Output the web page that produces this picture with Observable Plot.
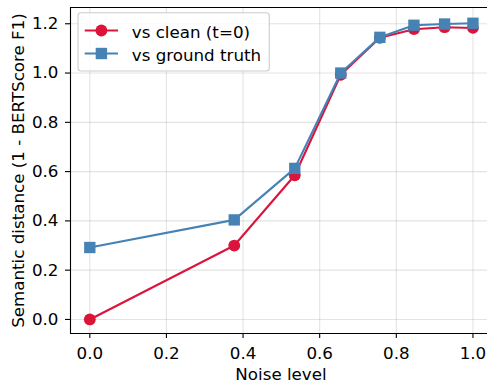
<!DOCTYPE html>
<html>
<head>
<meta charset="utf-8">
<script src="https://cdn.jsdelivr.net/npm/d3@7"></script>
<script src="https://cdn.jsdelivr.net/npm/@observablehq/plot@0.6"></script>
<style>
  html, body { margin: 0; padding: 0; background: #fff; }
  #wrap { position: relative; width: 487px; height: 383px; overflow: hidden; font-family: "DejaVu Sans", sans-serif; }
</style>
</head>
<body>
<div id="wrap"></div>
<script>
// Data
const noiseLevel = [0, 0.377, 0.535, 0.655, 0.757, 0.846, 0.926, 1.0];
const vsClean    = [0, 0.300, 0.585, 0.993, 1.143, 1.178, 1.186, 1.183];
const vsTruth    = [0.292, 0.404, 0.613, 1.000, 1.145, 1.194, 1.199, 1.202];
const seriesNames = ["vs clean (t=0)", "vs ground truth"];
const xTicks = [0, 0.2, 0.4, 0.6, 0.8, 1.0];
const yTicks = [0, 0.2, 0.4, 0.6, 0.8, 1.0, 1.2];
const xLabel = "Noise level";
const yLabel = "Semantic distance (1 - BERTScore F1)";

const red = "#DC143C";
const blue = "#4682B4";
const FS = 16.7;

const cleanRows = noiseLevel.map((x, i) => ({x, y: vsClean[i]}));
const truthRows = noiseLevel.map((x, i) => ({x, y: vsTruth[i]}));

const xDomain = [-0.0504, 1.038];
const yDomain = [-0.057, 1.266];

const chart = Plot.plot({
  width: 487,
  height: 383,
  marginLeft: 70,
  marginRight: 0,
  marginTop: 7,
  marginBottom: 50,
  x: {domain: xDomain},
  y: {domain: yDomain},
  style: {fontFamily: "DejaVu Sans", fontSize: FS + "px", color: "black", background: "white", overflow: "visible"},
  marks: [
    Plot.gridX(xTicks, {stroke: "#b0b0b0", strokeOpacity: 0.35, strokeWidth: 1.1}),
    Plot.gridY(yTicks, {stroke: "#b0b0b0", strokeOpacity: 0.35, strokeWidth: 1.1}),
    Plot.axisX(xTicks, {tickFormat: d => d.toFixed(1), tickSize: 5, tickPadding: 9, label: null, fontSize: FS, stroke: "black", strokeWidth: 1.1}),
    Plot.axisY(yTicks, {tickFormat: d => d.toFixed(1), tickSize: 5, tickPadding: 7, label: null, fontSize: FS, stroke: "black", strokeWidth: 1.1}),
    Plot.ruleX([xDomain[0]], {stroke: "black", strokeWidth: 1.1}),
    Plot.ruleY([yDomain[0]], {stroke: "black", strokeWidth: 1.1}),
    Plot.ruleY([yDomain[1]], {stroke: "black", strokeWidth: 1.1}),
    Plot.line(cleanRows, {x: "x", y: "y", stroke: red, strokeWidth: 2.1}),
    Plot.dot(cleanRows, {x: "x", y: "y", symbol: "circle", r: 5.9, fill: red, stroke: "none"}),
    Plot.line(truthRows, {x: "x", y: "y", stroke: blue, strokeWidth: 2.1}),
    Plot.dot(truthRows, {x: "x", y: "y", symbol: "square", r: 6.4, fill: blue, stroke: "none"}),
    Plot.text([xLabel], {frameAnchor: "bottom", lineAnchor: "bottom", dy: 46, dx: 2, fontSize: FS, fill: "black"}),
    Plot.text([yLabel], {frameAnchor: "left", textAnchor: "middle", rotate: -90, lineAnchor: "middle", dx: -52, fontSize: FS, fill: "black"})
  ]
});
document.getElementById("wrap").appendChild(chart);

// Legend (upper left, inside axes)
const leg = d3.create("svg")
  .attr("width", 487).attr("height", 383)
  .style("position", "absolute").style("left", "0px").style("top", "0px")
  .style("font-family", "DejaVu Sans").style("font-size", FS + "px");
leg.append("rect")
  .attr("x", 78).attr("y", 12.7).attr("width", 191.3).attr("height", 58.3)
  .attr("rx", 3).attr("fill", "white").attr("fill-opacity", 0.8)
  .attr("stroke", "#cccccc").attr("stroke-width", 1.1);
const entries = [
  {name: seriesNames[0], color: red, shape: "circle"},
  {name: seriesNames[1], color: blue, shape: "square"}
];
entries.forEach((e, i) => {
  const cy = 30.5 + i * 23;
  leg.append("line").attr("x1", 84.7).attr("x2", 118).attr("y1", cy).attr("y2", cy)
    .attr("stroke", e.color).attr("stroke-width", 2.1);
  if (e.shape === "circle") {
    leg.append("circle").attr("cx", 101.4).attr("cy", cy).attr("r", 5.9).attr("fill", e.color);
  } else {
    leg.append("rect").attr("x", 101.4 - 5.7).attr("y", cy - 5.7).attr("width", 11.4).attr("height", 11.4).attr("fill", e.color);
  }
  leg.append("text").attr("x", 131.8).attr("y", 37.7 + i * 23).attr("fill", "black").text(e.name);
});
document.getElementById("wrap").appendChild(leg.node());
</script>
</body>
</html>
